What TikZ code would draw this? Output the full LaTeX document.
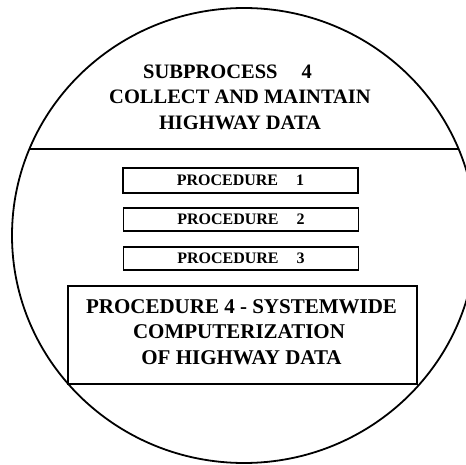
\documentclass[tikz,border=0pt]{standalone}
\usepackage{fontspec}
\setmainfont{Liberation Serif}
\begin{document}
\begin{tikzpicture}[x=1pt,y=-1pt,
  titletext/.style={font=\fontsize{20.5}{25.5}\selectfont\bfseries, inner sep=0pt},
  procbox/.style={draw, line width=1.1pt, minimum width=235pt, minimum height=23pt, inner sep=0pt,
    font=\fontsize{16}{18}\selectfont\bfseries},
  bigbox/.style={draw, line width=1.2pt, minimum width=349pt, minimum height=98pt, inner sep=0pt},
]
\useasboundingbox (0,0) rectangle (466,465);
\coordinate (c) at (244,235.5);
\begin{scope}
  \clip (c) ellipse [x radius=232pt, y radius=227.5pt];
  \draw[line width=1.2pt] (0,149) -- (466,149);
\end{scope}
\draw[line width=1.8pt] (c) ellipse [x radius=232pt, y radius=227.5pt];

\node[titletext] (t1) at (227.5,72) {SUBPROCESS\hspace{24pt}4};
\node[titletext] (t2) at (240,97) {COLLECT AND MAINTAIN};
\node[titletext] (t3) at (240,123) {HIGHWAY DATA};

\node[procbox, minimum height=25pt] (p1) at (240.5,180.5) {PROCEDURE\hspace{18pt}1};
\node[procbox] (p2) at (241,219.5) {PROCEDURE\hspace{18pt}2};
\node[procbox] (p3) at (241,258.5) {PROCEDURE\hspace{18pt}3};

\node[bigbox] (p4) at (242.5,335) {};
\node[titletext, font=\fontsize{21}{25.5}\selectfont\bfseries] (p4a) at (241.5,307) {PROCEDURE 4 - SYSTEMWIDE};
\node[titletext, font=\fontsize{21}{25.5}\selectfont\bfseries] (p4b) at (239,332) {COMPUTERIZATION};
\node[titletext, font=\fontsize{21}{25.5}\selectfont\bfseries] (p4c) at (241.5,358) {OF HIGHWAY DATA};
\end{tikzpicture}
\end{document}
